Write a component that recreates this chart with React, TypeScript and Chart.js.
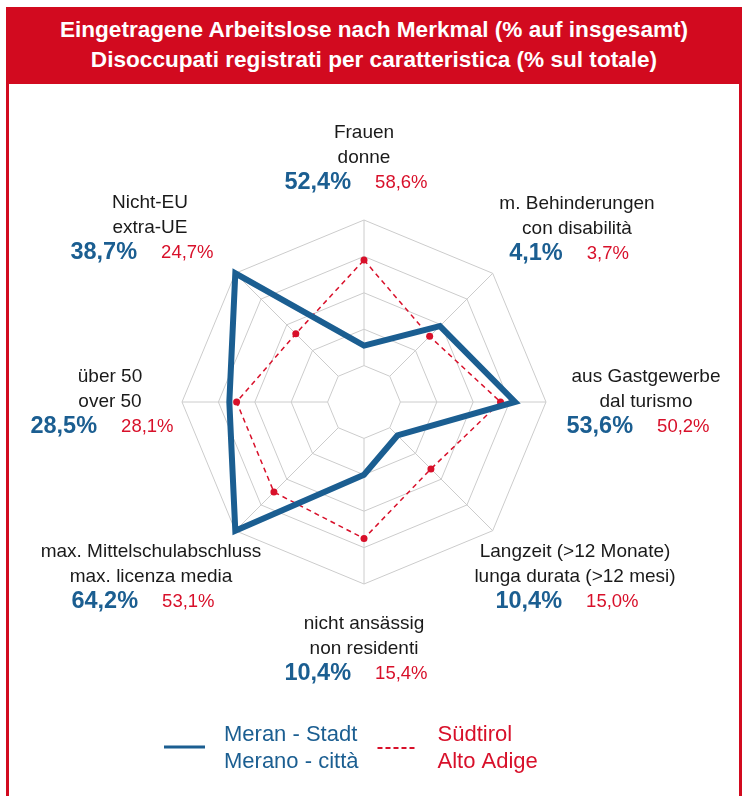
import React, { useEffect, useRef } from 'react';
import { Chart, registerables } from 'chart.js';

Chart.register(...registerables);

// ---- data ----
const CATEGORIES_DE = ['Frauen', 'm. Behinderungen', 'aus Gastgewerbe', 'Langzeit (>12 Monate)', 'nicht ansässig', 'max. Mittelschulabschluss', 'über 50', 'Nicht-EU'];
const CATEGORIES_IT = ['donne', 'con disabilità', 'dal turismo', 'lunga durata (>12 mesi)', 'non residenti', 'max. licenza media', 'over 50', 'extra-UE'];
const MERAN_PCT = [52.4, 4.1, 53.6, 10.4, 10.4, 64.2, 28.5, 38.7];
const SUEDTIROL_PCT = [58.6, 3.7, 50.2, 15.0, 15.4, 53.1, 28.1, 24.7];
// plotted (relative) positions on the radial scale
const MERAN_PLOT = [31, 59, 83, 26, 40, 100, 74, 100];
const SUEDTIROL_PLOT = [78, 51, 75, 52, 75, 70, 70, 53];
const SERIES_MERAN = ['Meran - Stadt', 'Merano - città'];
const SERIES_SUEDTIROL = ['Südtirol', 'Alto Adige'];
const TITLE_LINES = ['Eingetragene Arbeitslose nach Merkmal (% auf insgesamt)', 'Disoccupati registrati per caratteristica (% sul totale)'];

// ---- styles / layout ----
const FONT = '"Liberation Sans", Arial, Helvetica, sans-serif';
const BLUE = '#1b5e91';
const RED = '#d8102a';
const FRAME_RED = '#d20a1f';
const GRID = '#cccccc';
const TEXT = '#1a1a1a';
// label block offsets (second text line centre) relative to the radar centre
const LABEL_OFFSETS = [[0, -244], [213, -173], [282, 0], [211, 175], [0, 247], [-213, 175], [-254, 0], [-214, -174]];

const fmt = (v: number) => v.toFixed(1).replace('.', ',') + '%';

const customPlugin = {
  id: 'customRadarDecor',
  beforeDatasetsDraw(chart: any) {
    const s = chart.scales.r;
    const ctx = chart.ctx;
    ctx.save();
    ctx.strokeStyle = GRID;
    ctx.lineWidth = 1;
    for (let i = 0; i < CATEGORIES_DE.length; i++) {
      const a = s.getPointPositionForValue(i, 20);
      const b = s.getPointPositionForValue(i, 100);
      ctx.beginPath();
      ctx.moveTo(a.x, a.y);
      ctx.lineTo(b.x, b.y);
      ctx.stroke();
    }
    ctx.restore();
  },
  afterDraw(chart: any) {
    const s = chart.scales.r;
    const ctx = chart.ctx;
    const cx0 = s.xCenter;
    const cy0 = s.yCenter;
    ctx.save();
    ctx.textBaseline = 'middle';
    for (let i = 0; i < CATEGORIES_DE.length; i++) {
      const x = cx0 + LABEL_OFFSETS[i][0];
      const y = cy0 + LABEL_OFFSETS[i][1];
      ctx.textAlign = 'center';
      ctx.fillStyle = TEXT;
      ctx.font = `19px ${FONT}`;
      ctx.fillText(CATEGORIES_DE[i], x, y - 25);
      ctx.fillText(CATEGORIES_IT[i], x, y);
      const tb = fmt(MERAN_PCT[i]);
      const tr = fmt(SUEDTIROL_PCT[i]);
      ctx.font = `bold 23.5px ${FONT}`;
      const wb = ctx.measureText(tb).width;
      ctx.font = `18.5px ${FONT}`;
      const wr = ctx.measureText(tr).width;
      const gap = 24;
      const start = x - 8 - (wb + gap + wr) / 2;
      ctx.textAlign = 'left';
      ctx.font = `bold 23.5px ${FONT}`;
      ctx.fillStyle = BLUE;
      ctx.fillText(tb, start, y + 24.5);
      ctx.font = `18.5px ${FONT}`;
      ctx.fillStyle = RED;
      ctx.fillText(tr, start + wb + gap, y + 25);
    }
    // legend
    const ly = cy0 + 345; // line row
    const lx = cx0 - 200;
    ctx.lineCap = 'butt';
    ctx.strokeStyle = BLUE;
    ctx.lineWidth = 3;
    ctx.beginPath();
    ctx.moveTo(lx, ly);
    ctx.lineTo(lx + 41, ly);
    ctx.stroke();
    ctx.font = `22px ${FONT}`;
    ctx.textAlign = 'left';
    ctx.fillStyle = BLUE;
    ctx.fillText(SERIES_MERAN[0], lx + 60, ly - 12);
    ctx.fillText(SERIES_MERAN[1], lx + 60, ly + 15);
    const w2 = Math.max(ctx.measureText(SERIES_MERAN[0]).width, ctx.measureText(SERIES_MERAN[1]).width);
    const rx = lx + 60 + w2 + 19;
    ctx.strokeStyle = RED;
    ctx.lineWidth = 2;
    ctx.setLineDash([5, 3]);
    ctx.beginPath();
    ctx.moveTo(rx, ly + 1);
    ctx.lineTo(rx + 39, ly + 1);
    ctx.stroke();
    ctx.setLineDash([]);
    ctx.fillStyle = RED;
    ctx.fillText(SERIES_SUEDTIROL[0], rx + 60, ly - 12);
    ctx.fillText(SERIES_SUEDTIROL[1], rx + 60, ly + 15);
    ctx.restore();
  },
};

export default function App() {
  const ref = useRef<HTMLCanvasElement | null>(null);
  useEffect(() => {
    if (!ref.current) return;
    const chart = new Chart(ref.current, {
      type: 'radar',
      data: {
        labels: CATEGORIES_DE,
        datasets: [
          {
            label: SERIES_MERAN.join(' / '),
            data: MERAN_PLOT,
            borderColor: BLUE,
            backgroundColor: 'transparent',
            borderWidth: 6,
            pointRadius: 0,
            pointHoverRadius: 0,
            fill: false,
            borderJoinStyle: 'miter',
          },
          {
            label: SERIES_SUEDTIROL.join(' / '),
            data: SUEDTIROL_PLOT,
            borderColor: RED,
            backgroundColor: 'transparent',
            borderWidth: 1.5,
            borderDash: [5, 4],
            pointRadius: 3.5,
            pointBackgroundColor: RED,
            pointBorderWidth: 0,
            fill: false,
          },
        ],
      },
      options: {
        animation: false,
        responsive: true,
        maintainAspectRatio: false,
        layout: { padding: { left: 182, right: 197, top: 136, bottom: 212 } },
        plugins: { legend: { display: false }, tooltip: { enabled: false }, title: { display: false } },
        scales: {
          r: {
            min: 0,
            max: 100,
            ticks: { display: false, stepSize: 20 },
            grid: { color: GRID, lineWidth: 1, circular: false },
            angleLines: { display: false },
            pointLabels: { display: false },
          },
        },
      } as any,
      plugins: [customPlugin],
    });
    return () => chart.destroy();
  }, []);

  return (
    <div style={{ position: 'absolute', left: 0, top: 0, width: 743, height: 796, overflow: 'hidden', fontFamily: FONT, background: '#fff' }}>
      <div
        style={{
          position: 'absolute', left: 6, top: 7, width: 736, height: 77, background: FRAME_RED, color: '#fff',
          fontWeight: 'bold', fontSize: 22.6, lineHeight: '30px', textAlign: 'center', paddingTop: 8, boxSizing: 'border-box',
        }}
      >
        <div>{TITLE_LINES[0]}</div>
        <div>{TITLE_LINES[1]}</div>
      </div>
      <div
        style={{
          position: 'absolute', left: 6, top: 84, width: 736, height: 730, borderLeft: `3px solid ${FRAME_RED}`,
          borderRight: `3px solid ${FRAME_RED}`, borderBottom: `3px solid ${FRAME_RED}`, boxSizing: 'border-box',
        }}
      />
      <div style={{ position: 'absolute', left: 0, top: 84, width: 743, height: 712 }}>
        <canvas ref={ref} style={{ display: 'block' }} />
      </div>
    </div>
  );
}
